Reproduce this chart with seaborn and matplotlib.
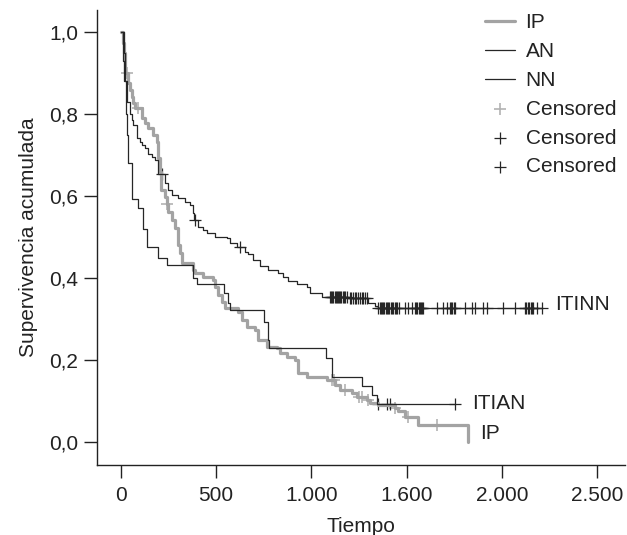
import matplotlib
matplotlib.use('Agg')

import numpy as np
import pandas as pd
import matplotlib.pyplot as plt
import seaborn as sns

# Kaplan-Meier estimates: event times and survival after each event
ip_t = [0, 10, 17, 23, 40, 49, 58, 66, 75, 110, 127, 145, 171, 189, 197, 206, 213, 232, 241, 250,
        268, 285, 302, 311, 320, 381, 390, 433, 486, 495, 512, 530, 547, 617, 635, 661, 705, 722,
        766, 818, 836, 871, 915, 932, 976, 1081, 1124, 1150, 1212, 1238, 1291, 1308, 1352, 1439,
        1457, 1492, 1561, 1824]
ip_s = [1.0, 0.974, 0.95, 0.90, 0.875, 0.859, 0.842, 0.826, 0.814, 0.79, 0.778, 0.765, 0.749, 0.733,
        0.692, 0.66, 0.615, 0.599, 0.582, 0.562, 0.542, 0.522, 0.481, 0.461, 0.436, 0.42, 0.412,
        0.404, 0.396, 0.379, 0.359, 0.343, 0.327, 0.318, 0.298, 0.282, 0.274, 0.249, 0.233, 0.229,
        0.217, 0.209, 0.20, 0.168, 0.16, 0.152, 0.14, 0.127, 0.119, 0.111, 0.103, 0.095, 0.091,
        0.083, 0.075, 0.062, 0.042, 0.0]
ip_cens = [31, 92, 241, 1110, 1120, 1177, 1250, 1265, 1300, 1440, 1505, 1658]

an_t = [0, 15, 20, 28, 31, 40, 58, 91, 117, 136, 196, 241, 378, 399, 542, 565, 573, 753, 771, 780,
        1077, 1107, 1264, 1317, 1343]
an_s = [1.0, 0.93, 0.88, 0.80, 0.75, 0.68, 0.593, 0.57, 0.52, 0.476, 0.45, 0.432, 0.40, 0.387,
        0.363, 0.34, 0.322, 0.294, 0.249, 0.229, 0.205, 0.158, 0.136, 0.115, 0.093]
an_cens = [1350, 1395, 1413, 1754]

nn_t = [0, 18, 24, 31, 49, 58, 66, 84, 101, 110, 127, 145, 163, 180, 197, 232, 250, 268, 302, 337,
        364, 381, 386, 407, 433, 451, 495, 556, 573, 609, 652, 669, 696, 731, 774, 827, 853, 879,
        923, 976, 993, 1055, 1195, 1299, 1334, 1350]
nn_s = [1.0, 0.95, 0.88, 0.83, 0.80, 0.786, 0.773, 0.741, 0.733, 0.725, 0.717, 0.704, 0.696, 0.688,
        0.655, 0.631, 0.615, 0.603, 0.595, 0.586, 0.578, 0.558, 0.542, 0.525, 0.517, 0.509, 0.50,
        0.497, 0.485, 0.477, 0.465, 0.459, 0.444, 0.43, 0.42, 0.412, 0.404, 0.394, 0.386, 0.379,
        0.363, 0.355, 0.351, 0.339, 0.3325, 0.3265]
nn_cens = [215, 390, 626,
           1098, 1104, 1110, 1116, 1122, 1128, 1134, 1140, 1146, 1152, 1158, 1164, 1170, 1176, 1185,
           1203, 1210, 1219, 1227, 1235, 1245, 1256, 1264, 1272, 1282, 1291,
           1352, 1358, 1364, 1370, 1376, 1382, 1390, 1396, 1402, 1410, 1416, 1422, 1430, 1438, 1445,
           1452, 1460, 1492, 1507, 1528, 1545, 1551, 1557, 1563, 1569, 1575, 1581, 1586,
           1658, 1691, 1710, 1728, 1734, 1740, 1747, 1754, 1806, 1842, 1859,
           1902, 1920, 2007, 2069, 2121, 2128, 2135, 2142, 2150, 2158, 2165, 2183, 2209]

x_ticks = [0, 500, 1000, 1500, 2000, 2500]
x_labels = ['0', '500', '1.000', '1.600', '2.000', '2.500']
y_ticks = [0.0, 0.2, 0.4, 0.6, 0.8, 1.0]
y_labels = ['0,0', '0,2', '0,4', '0,6', '0,8', '1,0']


def curve(t, s, cens):
    t = list(t)
    s = list(s)
    if max(cens) > t[-1]:
        t.append(max(cens))
        s.append(s[-1])
    return pd.DataFrame({'t': t, 's': s})


def censored(t, s, cens):
    idx = np.searchsorted(np.array(t), np.array(cens), side='right') - 1
    return pd.DataFrame({'t': cens, 's': np.array(s)[idx]})


sns.set_style('ticks')
plt.rcParams['font.family'] = ['Liberation Sans', 'DejaVu Sans']
fs = 15

fig = plt.figure(figsize=(6.27, 5.35), dpi=100)
ax = fig.add_axes([0.1547, 0.131, 0.8423, 0.850])

gray = '#a3a3a3'
black = '#262626'

sns.lineplot(data=curve(ip_t, ip_s, ip_cens), x='t', y='s', ax=ax, color=gray, lw=2.3,
             drawstyle='steps-post', label='IP', estimator=None)
sns.lineplot(data=curve(an_t, an_s, an_cens), x='t', y='s', ax=ax, color=black, lw=0.9,
             drawstyle='steps-post', label='AN', estimator=None)
sns.lineplot(data=curve(nn_t, nn_s, nn_cens), x='t', y='s', ax=ax, color=black, lw=0.9,
             drawstyle='steps-post', label='NN', estimator=None)

sns.scatterplot(data=censored(ip_t, ip_s, ip_cens), x='t', y='s', ax=ax, marker='+', s=70,
                color='#b3b3b3', linewidth=1.2, label='Censored')
sns.scatterplot(data=censored(an_t, an_s, an_cens), x='t', y='s', ax=ax, marker='+', s=70,
                color=black, linewidth=0.9, label='Censored')
sns.scatterplot(data=censored(nn_t, nn_s, nn_cens), x='t', y='s', ax=ax, marker='+', s=70,
                color=black, linewidth=0.9, label='Censored')

ax.text(2279, 0.335, 'ITINN', fontsize=fs, va='center', ha='left', color='#222222')
ax.text(1842, 0.095, 'ITIAN', fontsize=fs, va='center', ha='left', color='#222222')
ax.text(1885, 0.022, 'IP', fontsize=fs, va='center', ha='left', color='#222222')

ax.set_xlim(-124, 2646)
ax.set_ylim(-0.0553, 1.0535)
ax.set_xticks(x_ticks)
ax.set_xticklabels(x_labels)
ax.set_yticks(y_ticks)
ax.set_yticklabels(y_labels)
ax.tick_params(axis='both', labelsize=fs, length=9.5, width=1, color='#222222',
               labelcolor='#222222', direction='out')
ax.tick_params(axis='x', pad=6)
ax.tick_params(axis='y', pad=4)
ax.set_xlabel('Tiempo', fontsize=fs, color='#222222', labelpad=8)
ax.set_ylabel('Supervivencia acumulada', fontsize=fs, color='#222222', labelpad=8)
sns.despine(ax=ax)
for sp in ['left', 'bottom']:
    ax.spines[sp].set_color('#222222')
    ax.spines[sp].set_linewidth(1.0)

ax.legend(loc='upper left', bbox_to_anchor=(0.7735, 0.975), bbox_transform=fig.transFigure,
          frameon=False, fontsize=fs, borderpad=0, borderaxespad=0, handlelength=1.45,
          handletextpad=0.5, labelspacing=0.47, labelcolor='#222222')

fig.savefig('out.png', dpi=100)
